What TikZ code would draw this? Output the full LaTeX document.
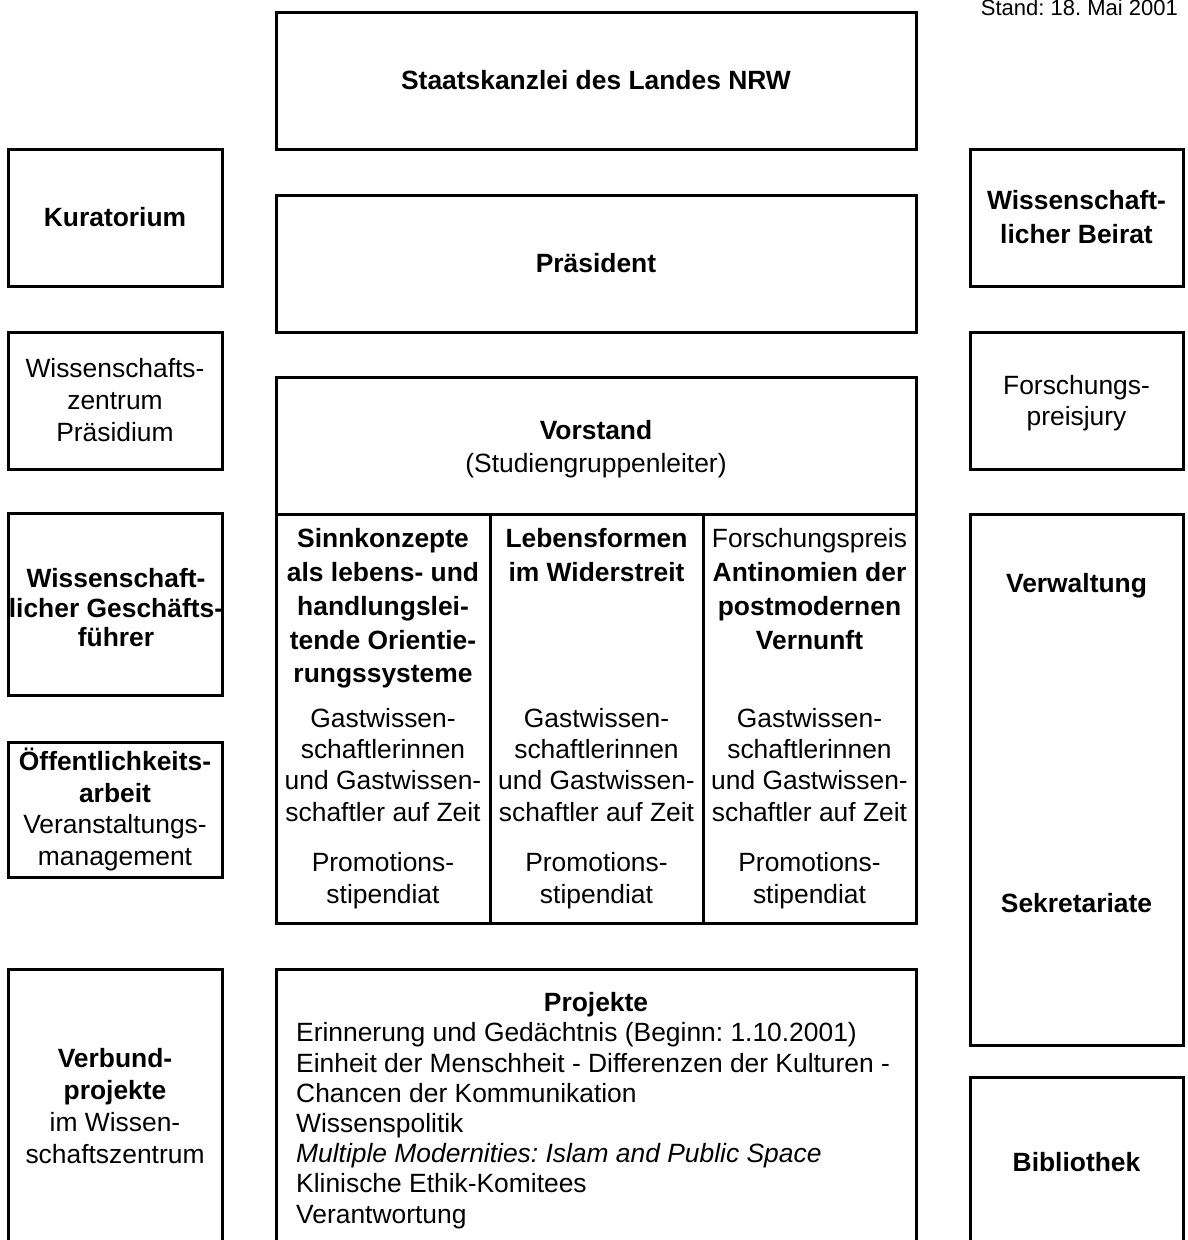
\documentclass[tikz,border=0pt]{standalone}
\usepackage{fontspec}
\setmainfont{Liberation Sans}
\frenchspacing
\newcommand\fsreg{\fontsize{26.4}{32}\selectfont}
\newcommand\fshead{\fontsize{26.4}{33.75}\selectfont}
\newcommand\fsgast{\fontsize{26.4}{31.3}\selectfont}
\newcommand\fsproj{\fontsize{26.4}{30.2}\selectfont}
\tikzset{
  box/.style={draw, line width=3pt, inner sep=0pt, align=center, font=\fsreg},
  boldbox/.style={box, font=\fsreg\bfseries},
  txt/.style={inner sep=0pt, align=center, font=\fsreg},
  headtxt/.style={txt, anchor=north, font=\fshead},
  gasttxt/.style={txt, anchor=north, font=\fsgast},
}
\begin{document}
\begin{tikzpicture}[x=1pt,y=-1pt]
\clip (0,0) rectangle (1187,1240);
\fill[white] (0,0) rectangle (1187,1240);

\node[txt, anchor=base east, font=\fontsize{22}{26}\selectfont] (stand) at (1178,15) {Stand: 18. Mai 2001};

% centre column
\node[boldbox, minimum width=640, minimum height=137] (sk) at (596,80.5) {Staatskanzlei des Landes NRW};
\node[boldbox, minimum width=640, minimum height=137] (pr) at (596,263.5) {Präsident};
\node[box, minimum width=640, minimum height=137] (vor) at (596,445.5) {};
\node[txt, font=\fontsize{26.4}{33}\selectfont] (vort) at (596,449) {\textbf{Vorstand}\\(Studiengruppenleiter)};
\node[box, minimum width=214, minimum height=409] (c1) at (383,718.5) {};
\node[box, minimum width=213, minimum height=409] (c2) at (596.5,718.5) {};
\node[box, minimum width=213, minimum height=409] (c3) at (809.5,718.5) {};

\node[headtxt, font=\fshead\bfseries] (h1) at (383,528.5) {Sinnkonzepte\\als lebens- und\\handlungslei-\\tende Orientie-\\rungssysteme};
\node[headtxt, font=\fshead\bfseries] (h2) at (596.5,528.5) {Lebensformen\\im Widerstreit};
\node[headtxt] (h3) at (809.5,528.5) {Forschungspreis\\\textbf{Antinomien der}\\\textbf{postmodernen}\\\textbf{Vernunft}};

\node[gasttxt] (g1) at (383,708) {Gastwissen-\\schaftlerinnen\\und Gastwissen-\\schaftler auf Zeit};
\node[gasttxt] (g2) at (596.5,708) {Gastwissen-\\schaftlerinnen\\und Gastwissen-\\schaftler auf Zeit};
\node[gasttxt] (g3) at (809.5,708) {Gastwissen-\\schaftlerinnen\\und Gastwissen-\\schaftler auf Zeit};

\node[gasttxt] (p1) at (383,852.5) {Promotions-\\stipendiat};
\node[gasttxt] (p2) at (596.5,852.5) {Promotions-\\stipendiat};
\node[gasttxt] (p3) at (809.5,852.5) {Promotions-\\stipendiat};

\node[box, minimum width=640, minimum height=281] (proj) at (596,1109.5) {};
\node[txt, anchor=north, font=\fsreg\bfseries] (projt) at (596,992.5) {Projekte};
\node[txt, anchor=north west, align=left, font=\fsproj] (projl) at (296,1022.5) {Erinnerung und Gedächtnis (Beginn: 1.10.2001)\\Einheit der Menschheit - Differenzen der Kulturen -\\Chancen der Kommunikation\\Wissenspolitik\\\textit{Multiple Modernities: Islam and Public Space}\\Klinische Ethik-Komitees\\Verantwortung};

% left column
\node[boldbox, minimum width=214, minimum height=137] (kur) at (115,217.5) {Kuratorium};
\node[box, minimum width=214, minimum height=137] (praes) at (115,400.5) {Wissenschafts-\\zentrum\\Präsidium};
\node[box, minimum width=214, minimum height=182] (gf) at (115,604) {};
\node[txt, font=\fontsize{26.4}{29.5}\selectfont\bfseries] (gft) at (116,608) {Wissenschaft-\\licher Geschäfts-\\führer};
\node[box, minimum width=214, minimum height=135, font=\fontsize{26.4}{31.5}\selectfont] (oeff) at (115,809.5) {\textbf{Öffentlichkeits-}\\\textbf{arbeit}\\Veranstaltungs-\\management};
\node[box, minimum width=214, minimum height=274] (verb) at (115,1106) {\textbf{Verbund-}\\\textbf{projekte}\\im Wissen-\\schaftszentrum};

% right column
\node[boldbox, minimum width=213, minimum height=137, font=\fontsize{26.4}{34}\selectfont\bfseries] (beirat) at (1076.5,217.5) {Wissenschaft-\\licher Beirat};
\node[box, minimum width=213, minimum height=137] (jury) at (1076.5,400.5) {};
\node[txt, font=\fontsize{26.4}{31}\selectfont] (juryt) at (1076.5,403.5) {Forschungs-\\preisjury};
\node[box, minimum width=213, minimum height=531] (verw) at (1076.5,779.5) {};
\node[txt, anchor=north, font=\fsreg\bfseries] (verwt) at (1076.5,573.5) {Verwaltung};
\node[txt, anchor=north, font=\fsreg\bfseries] (sekt) at (1076.5,893.5) {Sekretariate};
\node[boldbox, minimum width=213, minimum height=170] (bib) at (1076.5,1162) {Bibliothek};
\end{tikzpicture}
\end{document}
